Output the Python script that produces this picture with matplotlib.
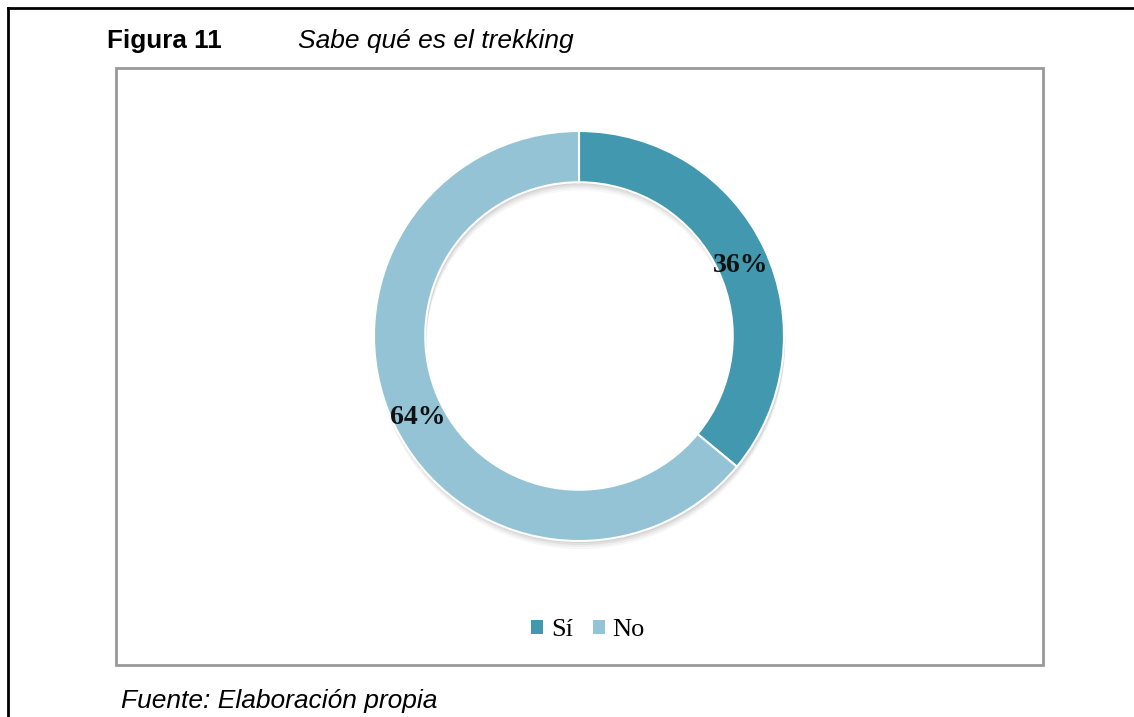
import matplotlib
matplotlib.use("Agg")
import matplotlib.pyplot as plt
from matplotlib.lines import Line2D
from matplotlib.patches import Rectangle, Wedge

categories = ["Sí", "No"]
values = [36, 64]
colors = ["#4298AF", "#93C3D5"]

W, H = 1134, 717
fig = plt.figure(figsize=(W / 100, H / 100), dpi=100)
fig.patch.set_facecolor("white")

def fx(px):
    return px / W

def fy(py):
    return 1 - py / H

# outer frame (top and left rules)
fig.add_artist(Line2D([fx(8), 1.0], [fy(8), fy(8)], color="black", lw=2))
fig.add_artist(Line2D([fx(8), fx(8)], [fy(8), 0.0], color="black", lw=2))

# inner chart box
fig.add_artist(Rectangle((fx(116), fy(665)), fx(1043) - fx(116), fy(68) - fy(665),
                         transform=fig.transFigure, fill=False,
                         edgecolor="#999999", lw=2))

# titles
fig.text(fx(107), fy(41), "Figura 11", family="Liberation Sans", weight="bold",
         fontsize=18.7, va="center", ha="left")
fig.text(fx(298), fy(41), "Sabe qué es el trekking", family="Liberation Sans",
         style="italic", fontsize=19, va="center", ha="left")
fig.text(fx(121), fy(701), "Fuente: Elaboración propia", family="Liberation Sans",
         style="italic", fontsize=19, va="center", ha="left")

# donut axes: center (579, 336), radius 205 px
cx, cy, R = 579, 336, 205
half = 250
ax = fig.add_axes([fx(cx - half), fy(cy + half), 2 * half / W, 2 * half / H])
lim = half / R
ax.set_xlim(-lim, lim)
ax.set_ylim(-lim, lim)
ax.set_aspect("equal")
ax.axis("off")

# subtle shadow
for i, a in enumerate([0.06, 0.05, 0.04, 0.03]):
    off = (i + 1) * 0.01
    ax.add_patch(Wedge((0.006, -off), 1.0, 0, 360, width=0.25, facecolor="black",
                       alpha=a, edgecolor="none", zorder=0))

wedges, texts, autotexts = ax.pie(
    values, colors=colors, startangle=90, counterclock=False, radius=1.0,
    autopct="%d%%", pctdistance=0.87,
    wedgeprops=dict(width=0.25, edgecolor="white", linewidth=1.5),
    textprops=dict(family="Liberation Serif", weight="bold", fontsize=20, color="#111111"),
)
for w in wedges:
    w.set_zorder(2)
for t in autotexts:
    x, y = t.get_position()
    t.set_position((x, y - 0.025))
    t.set_zorder(3)
ax.set_xlim(-lim, lim)
ax.set_ylim(-lim, lim)

handles = [Rectangle((0, 0), 1, 1, facecolor=c, edgecolor="none") for c in colors]
fig.legend(handles, categories, loc="center", bbox_to_anchor=(fx(588), fy(630)),
           ncol=2, frameon=False, prop=dict(family="Liberation Serif", size=19),
           handlelength=0.45, handleheight=0.45, handletextpad=0.3, columnspacing=0.75)

fig.savefig("out.png", dpi=100, facecolor="white")
